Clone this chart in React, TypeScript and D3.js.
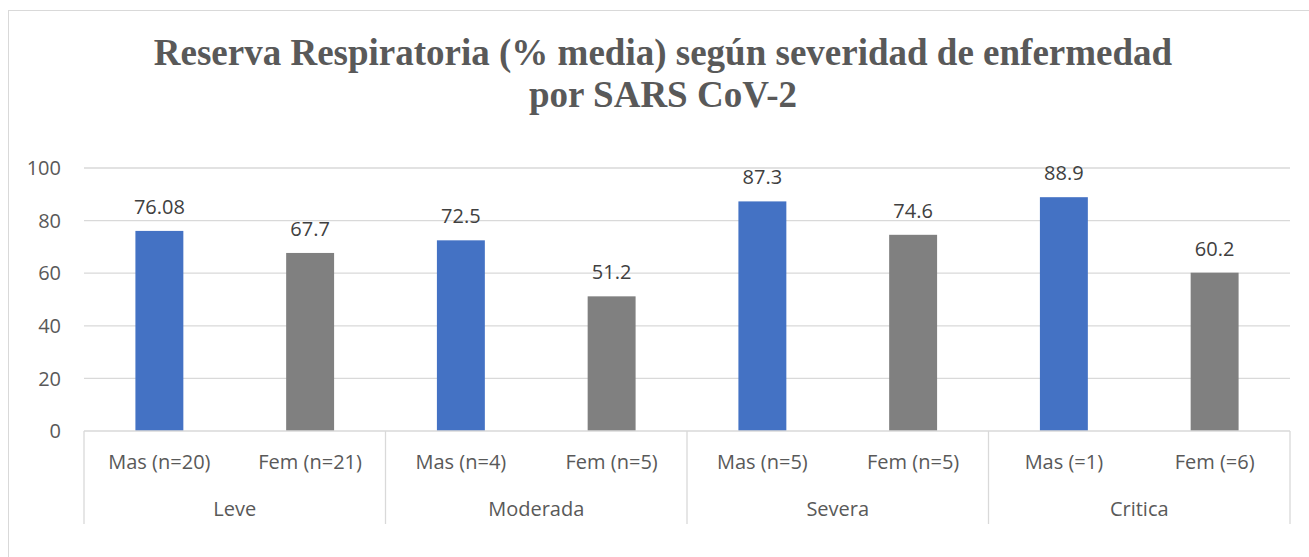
import React from "react";
import * as d3 from "d3";

const groups = ["Leve", "Moderada", "Severa", "Critica"];
const subLabels = [
  ["Mas (n=20)", "Fem (n=21)"],
  ["Mas (n=4)", "Fem (n=5)"],
  ["Mas (n=5)", "Fem (n=5)"],
  ["Mas (=1)", "Fem (=6)"],
];
const values = [76.08, 67.7, 72.5, 51.2, 87.3, 74.6, 88.9, 60.2];
const valueLabels = ["76.08", "67.7", "72.5", "51.2", "87.3", "74.6", "88.9", "60.2"];
const yTicks = [0, 20, 40, 60, 80, 100];
const colors = ["#4472C4", "#808080"];

const W = 1309;
const H = 557;
const left = 84;
const right = 1290;
const top = 168;
const bottom = 431;

export default function App() {
  const y = d3.scaleLinear().domain([0, 100]).range([bottom, top]);
  const bars = values.map((v, i) => ({ v, i, lbl: valueLabels[i], sub: subLabels[Math.floor(i / 2)][i % 2] }));
  const x = d3.scaleBand<number>().domain(bars.map((b) => b.i)).range([left, right]).paddingInner(0).paddingOuter(0);
  const gx = d3.scaleBand<string>().domain(groups).range([left, right]);
  const barW = x.bandwidth() * 0.318;
  const font = "'Open Sans', 'Liberation Sans', sans-serif";
  const serif = "'Liberation Serif', 'Times New Roman', serif";
  return (
    <svg width={W} height={H} style={{ position: "absolute", left: 0, top: 0 }}>
      <rect x={0} y={0} width={W} height={H} fill="#fff" />
      <rect x={8.5} y={10.5} width={W + 10} height={H + 10} fill="#fff" stroke="#d9d9d9" />
      <text x={663} y={65} textAnchor="middle" fontFamily={serif} fontWeight="bold" fontSize={37} fill="#595959">
        Reserva Respiratoria (% media) según severidad de enfermedad
      </text>
      <text x={663} y={107} textAnchor="middle" fontFamily={serif} fontWeight="bold" fontSize={37} fill="#595959">
        por SARS CoV-2
      </text>
      {yTicks.map((t) => (
        <g key={t}>
          {t > 0 && <line x1={left} x2={right} y1={y(t)} y2={y(t)} stroke="#d9d9d9" strokeWidth={1.3} />}
          <text x={61} y={y(t)} dy="0.36em" textAnchor="end" fontFamily={font} fontSize={20} fill="#595959">
            {t}
          </text>
        </g>
      ))}
      {bars.map((b) => {
        const cx = (x(b.i) as number) + x.bandwidth() / 2;
        return (
          <g key={b.i}>
            <rect x={cx - barW / 2} y={y(b.v)} width={barW} height={bottom - y(b.v)} fill={colors[b.i % 2]} />
            <text x={cx} y={y(b.v) - 17} textAnchor="middle" fontFamily={font} fontSize={20} fill="#404040">
              {b.lbl}
            </text>
            <text x={cx} y={462} dy="0.36em" textAnchor="middle" fontFamily={font} fontSize={20} fill="#595959">
              {b.sub}
            </text>
          </g>
        );
      })}
      <line x1={left} x2={right} y1={bottom} y2={bottom} stroke="#d9d9d9" strokeWidth={1.3} />
      {[...groups.map((g) => gx(g) as number), right].map((xx, i) => (
        <line key={i} x1={xx} x2={xx} y1={bottom} y2={524} stroke="#d9d9d9" strokeWidth={1.3} />
      ))}
      {groups.map((g) => (
        <text key={g} x={(gx(g) as number) + gx.bandwidth() / 2} y={509} dy="0.36em" textAnchor="middle" fontFamily={font} fontSize={20} fill="#595959">
          {g}
        </text>
      ))}
    </svg>
  );
}
